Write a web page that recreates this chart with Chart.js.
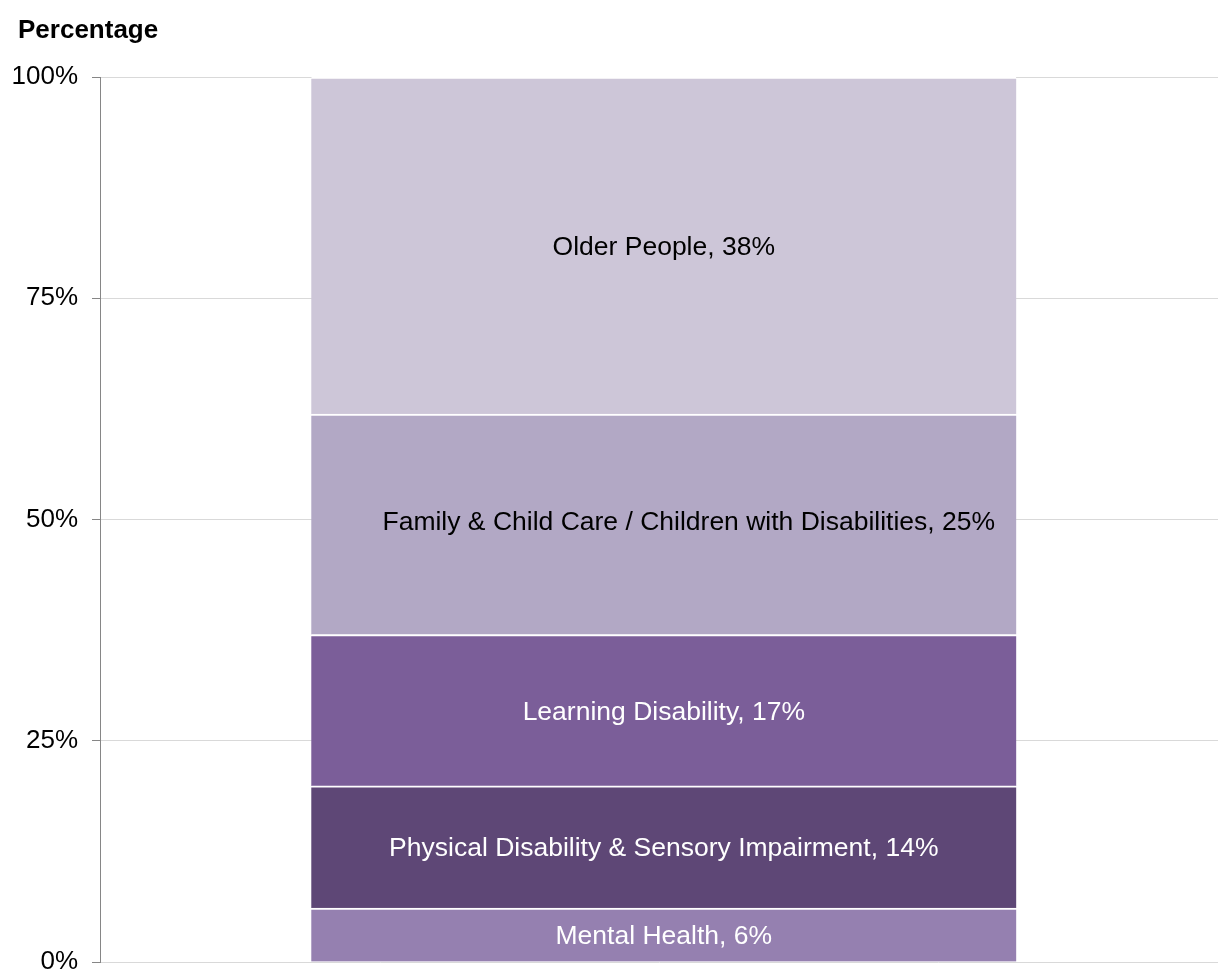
<!DOCTYPE html>
<html>
<head>
<meta charset="utf-8">
<script src="https://cdn.jsdelivr.net/npm/chart.js@4"></script>
<style>
  html, body { margin: 0; padding: 0; background: #fff; }
  #wrap { width: 1218px; height: 971px; position: relative; }
</style>
</head>
<body>
<div id="wrap"><canvas id="chart"></canvas></div>
<script>
// service groups, bottom to top of the stack
const groups = ['Mental Health', 'Physical Disability & Sensory Impairment', 'Learning Disability',
  'Family & Child Care / Children with Disabilities', 'Older People'];
const shares = [6.1, 13.8, 17.1, 24.9, 38.1];
const shownPct = ['6%', '14%', '17%', '25%', '38%'];
const fills = ['#9580b0', '#5e4776', '#7b5e99', '#b2a8c5', '#cdc6d8'];
const labelColours = ['#ffffff', '#ffffff', '#ffffff', '#000000', '#000000'];
const yTicks = [0, 25, 50, 75, 100];

const FONT = "'Liberation Sans', Arial, sans-serif";

// single bar at x = 0, all groups stacked on it
const datasets = groups.map((g, i) => ({
  label: g,
  data: [{ x: 0, y: shares[i] }],
  backgroundColor: fills[i],
  borderColor: '#ffffff',
  borderWidth: { top: 2, left: 0, right: 0, bottom: 0 },
  borderSkipped: false,
  barThickness: 705
}));

// segment labels + the "Percentage" heading
const labelPlugin = {
  id: 'segLabels',
  afterDatasetsDraw(chart) {
    const ctx = chart.ctx;
    ctx.save();
    ctx.font = '26.5px ' + FONT;
    ctx.textAlign = 'center';
    ctx.textBaseline = 'middle';
    chart.data.datasets.forEach((ds, i) => {
      const bar = chart.getDatasetMeta(i).data[0];
      const mid = (bar.y + bar.base) / 2;
      const text = groups[i] + ', ' + shownPct[i];
      // long label gets nudged right like the original
      const w = ctx.measureText(text).width;
      const long = w > bar.width * 0.8;
      ctx.fillStyle = labelColours[i];
      ctx.fillText(text, bar.x + (long ? 25 : 0), mid + (long ? -2 : 2));
    });
    ctx.font = 'bold 26px ' + FONT;
    ctx.textAlign = 'left';
    ctx.fillStyle = '#000';
    ctx.fillText('Percentage', 18, 31);
    ctx.restore();
  }
};

new Chart(document.getElementById('chart'), {
  type: 'bar',
  data: { datasets: datasets },
  options: {
    responsive: true,
    maintainAspectRatio: false,
    animation: false,
    layout: { padding: { top: 77, bottom: 9, left: 0, right: 0 } },
    plugins: {
      legend: { display: false },
      tooltip: { enabled: false },
      title: { display: false }
    },
    scales: {
      x: {
        type: 'linear',
        stacked: true,
        display: false,
        min: -0.505,
        max: 0.495
      },
      y: {
        stacked: true,
        min: 0,
        max: 100,
        afterBuildTicks(scale) {
          scale.ticks = yTicks.map(v => ({ value: v }));
        },
        afterFit(scale) {
          scale.width = 100;
          scale.paddingTop = 0;
          scale.paddingBottom = 0;
        },
        ticks: {
          padding: 14,
          color: '#000',
          font: { family: FONT, size: 26 },
          callback: v => v + '%'
        },
        grid: {
          color: '#d9d9d9',
          lineWidth: 1,
          tickLength: 8,
          tickColor: '#868686',
          drawOnChartArea: true
        },
        border: { display: true, color: '#868686', width: 1 }
      }
    }
  },
  plugins: [labelPlugin]
});
</script>
</body>
</html>
